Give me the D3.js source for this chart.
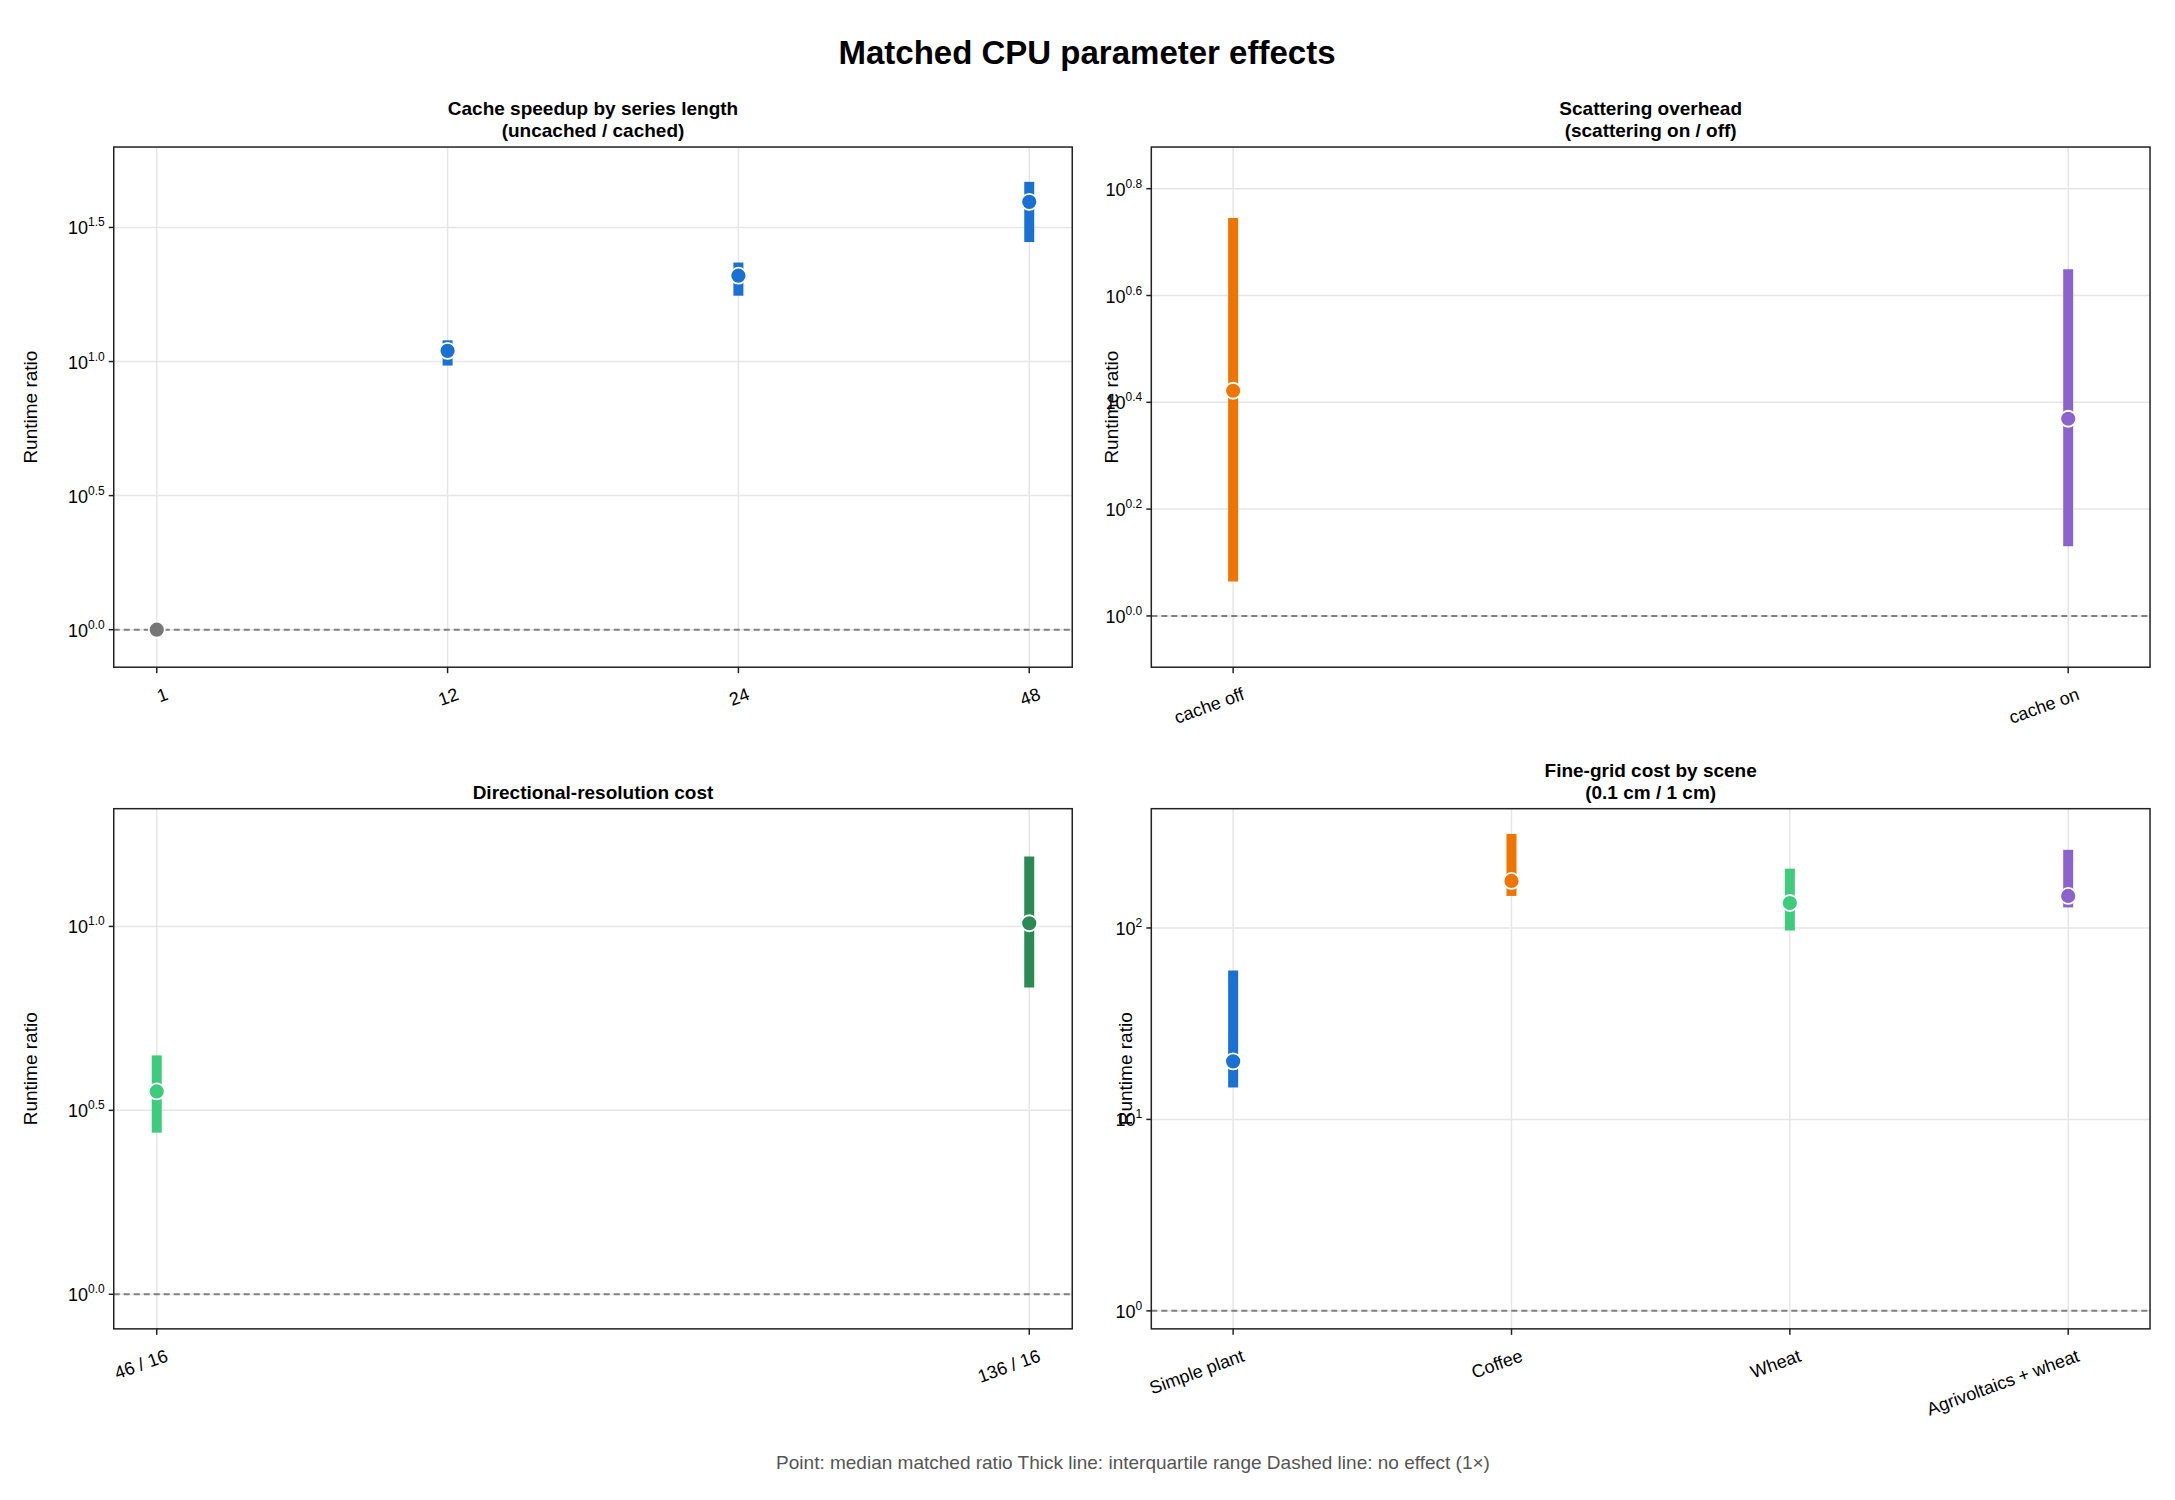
<!DOCTYPE html>
<html><head><meta charset="utf-8">
<script src="https://cdn.jsdelivr.net/npm/d3@7"></script>
<style>body{margin:0;background:#fff}text{font-family:"Liberation Sans",Arial,sans-serif}</style>
</head><body><svg id="c" width="2175" height="1500"></svg>
<script>
const S = 2175/1568;
// data (log10 not used; raw ratios)
const p1Cats = ["1","12","24","48"];
const p1Med = [1, 10.96, 20.9, 39.4];
const p1Lo  = [1, 9.66, 17.6, 27.9];
const p1Hi  = [1, 12.0, 23.4, 46.8];
const p1Col = ["#777777","#1b71d2","#1b71d2","#1b71d2"];
const p1Ticks = [0,0.5,1.0,1.5];

const p2Cats = ["cache off","cache on"];
const p2Med = [2.64, 2.34];
const p2Lo  = [1.16, 1.35];
const p2Hi  = [5.56, 4.46];
const p2Col = ["#ee7600","#8c63cc"];
const p2Ticks = [0,0.2,0.4,0.6,0.8];

const p3Cats = ["46 / 16","136 / 16"];
const p3Med = [3.56, 10.2];
const p3Lo  = [2.75, 6.82];
const p3Hi  = [4.46, 15.5];
const p3Col = ["#3ecb7e","#2a8a55"];
const p3Ticks = [0,0.5,1.0];

const p4Cats = ["Simple plant","Coffee","Wheat","Agrivoltaics + wheat"];
const p4Med = [20.1, 176, 135, 147];
const p4Lo  = [14.7, 147, 97, 128];
const p4Hi  = [60, 310, 204, 256];
const p4Col = ["#1b71d2","#ee7600","#3ecb7e","#8c63cc"];
const p4Ticks = [0,1,2];

const svg = d3.select("#c");
svg.append("text").attr("x",1087).attr("y",46*S).attr("text-anchor","middle")
  .attr("font-size",33).attr("font-weight","bold").text("Matched CPU parameter effects");
svg.append("text").attr("x",1133).attr("y",1055*S+6).attr("text-anchor","middle")
  .attr("font-size",19).attr("fill","#555")
  .text("Point: median matched ratio    Thick line: interquartile range    Dashed line: no effect (1×)");

function panel(o){
  const x0=o.x0*S,x1=o.x1*S,y0=o.y0*S,y1=o.y1*S;
  const g=svg.append("g");
  const n=o.cats.length;
  const x=d3.scaleLinear().domain([0,n-1]).range([x0+o.pad*S,x1-o.pad*S]);
  const y=d3.scaleLog().domain(o.ydom.map(v=>Math.pow(10,v))).range([y1,y0]);
  // grid
  o.ticks.forEach(t=>g.append("line").attr("x1",x0).attr("x2",x1).attr("y1",y(Math.pow(10,t))).attr("y2",y(Math.pow(10,t))).attr("stroke","#e6e6e6").attr("stroke-width",1.5));
  o.cats.forEach((c,i)=>g.append("line").attr("x1",x(i)).attr("x2",x(i)).attr("y1",y0).attr("y2",y1).attr("stroke","#e6e6e6").attr("stroke-width",1.5));
  g.append("line").attr("x1",x0).attr("x2",x1).attr("y1",y(1)).attr("y2",y(1)).attr("stroke","#808080").attr("stroke-width",2).attr("stroke-dasharray","6,4");
  // bars
  o.cats.forEach((c,i)=>{
    if(o.hi[i]!==o.lo[i]) g.append("line").attr("x1",x(i)).attr("x2",x(i)).attr("y1",y(o.lo[i])).attr("y2",y(o.hi[i])).attr("stroke",o.col[i]).attr("stroke-width",10);
    g.append("circle").attr("cx",x(i)).attr("cy",y(o.med[i])).attr("r",8).attr("fill",o.col[i]).attr("stroke","#fff").attr("stroke-width",1.8);
  });
  g.append("rect").attr("x",x0).attr("y",y0).attr("width",x1-x0).attr("height",y1-y0).attr("fill","none").attr("stroke","#222").attr("stroke-width",1.5);
  // y ticks
  o.ticks.forEach(t=>{
    const yy=y(Math.pow(10,t));
    g.append("line").attr("x1",x0-5).attr("x2",x0).attr("y1",yy).attr("y2",yy).attr("stroke","#222").attr("stroke-width",1.5);
    const tx=g.append("text").attr("x",x0-9).attr("y",yy+7).attr("text-anchor","end").attr("font-size",18);
    tx.append("tspan").text("10");
    tx.append("tspan").attr("dy",-8).attr("font-size",12).text(o.fmt(t));
  });
  // x ticks
  o.cats.forEach((c,i)=>{
    g.append("line").attr("x1",x(i)).attr("x2",x(i)).attr("y1",y1).attr("y2",y1+6).attr("stroke","#222").attr("stroke-width",1.5);
    g.append("text").attr("transform",`translate(${x(i)+8},${y1+20}) rotate(-20)`).attr("text-anchor","end").attr("dy","0.7em").attr("font-size",18).text(c);
  });
  g.append("text").attr("transform",`translate(${x0-o.ylabOff*S},${(y0+y1)/2}) rotate(-90)`).attr("text-anchor","middle").attr("font-size",19).text("Runtime ratio");
  o.title.forEach((t,k)=>g.append("text").attr("x",(x0+x1)/2).attr("y",y0-(o.title.length-1-k)*22-10).attr("text-anchor","middle").attr("font-size",19).attr("font-weight","bold").text(t));
}
const f1=t=>t.toFixed(1);
panel({x0:82,x1:773,y0:106,y1:481,pad:31,ydom:[-0.14,1.80],cats:p1Cats,med:p1Med,lo:p1Lo,hi:p1Hi,col:p1Col,ticks:p1Ticks,fmt:f1,ylabOff:55,title:["Cache speedup by series length","(uncached / cached)"]});
panel({x0:830,x1:1550,y0:106,y1:481,pad:59,ydom:[-0.096,0.878],cats:p2Cats,med:p2Med,lo:p2Lo,hi:p2Hi,col:p2Col,ticks:p2Ticks,fmt:f1,ylabOff:24,title:["Scattering overhead","(scattering on / off)"]});
panel({x0:82,x1:773,y0:583,y1:958,pad:31,ydom:[-0.094,1.32],cats:p3Cats,med:p3Med,lo:p3Lo,hi:p3Hi,col:p3Col,ticks:p3Ticks,fmt:f1,ylabOff:55,title:["Directional-resolution cost"]});
panel({x0:830,x1:1550,y0:583,y1:958,pad:59,ydom:[-0.094,2.623],cats:p4Cats,med:p4Med,lo:p4Lo,hi:p4Hi,col:p4Col,ticks:p4Ticks,fmt:t=>String(t),ylabOff:14,title:["Fine-grid cost by scene","(0.1 cm / 1 cm)"]});
</script></body></html>
